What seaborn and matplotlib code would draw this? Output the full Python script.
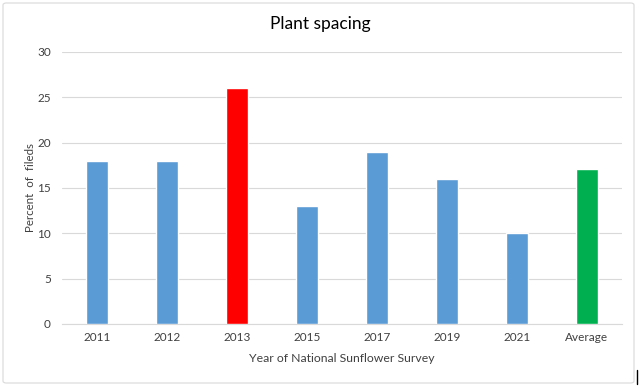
import matplotlib
matplotlib.use("Agg")
import matplotlib.pyplot as plt
from matplotlib.patches import FancyBboxPatch
from matplotlib.lines import Line2D
import seaborn as sns
import pandas as pd

categories = ["2011", "2012", "2013", "2015", "2017", "2019", "2021", "Average"]
values = [18, 18, 26, 13, 19, 16, 10, 17.14]
bar_colors = ["#5B9BD5", "#5B9BD5", "#FF0000", "#5B9BD5", "#5B9BD5", "#5B9BD5", "#5B9BD5", "#00B050"]
yticks = [0, 5, 10, 15, 20, 25, 30]

sns.set_theme(style="white")
plt.rcParams["font.family"] = ["Lato", "DejaVu Sans"]

df = pd.DataFrame({"cat": categories, "val": values})

fig = plt.figure(figsize=(6.4, 3.86), dpi=100)
ax = fig.add_axes([62 / 640, 1 - 324 / 386, 560 / 640, 272 / 386])

sns.barplot(data=df, x="cat", y="val", hue="cat", palette=bar_colors, legend=False,
            width=0.31, ax=ax, saturation=1, zorder=3)

ax.set_ylim(0, 30)
ax.set_yticks(yticks)
ax.set_yticklabels([str(t) for t in yticks], fontsize=8.5, color="#404040")
ax.tick_params(axis="x", labelsize=8.5, colors="#404040", length=0, pad=6)
ax.tick_params(axis="y", length=0, pad=8)
ax.yaxis.grid(True, color="#d9d9d9", linewidth=0.8, zorder=0)
ax.set_axisbelow(True)
for s in ["top", "right", "left"]:
    ax.spines[s].set_visible(False)
ax.spines["bottom"].set_color("#d9d9d9")
ax.spines["bottom"].set_linewidth(0.8)

ax.set_xlabel("Year of National Sunflower Survey", fontsize=8.8, color="#404040", labelpad=7)
ax.set_ylabel("Percent  of  fileds", fontsize=8.3, color="#404040", labelpad=1)
fig.text(0.5, 1 - 24 / 386, "Plant spacing", ha="center", va="center", fontsize=12.5, color="#000000")

border = FancyBboxPatch((3 / 640, 3 / 386), 631 / 640, 380 / 386,
                        boxstyle="round,pad=0,rounding_size=0.005",
                        transform=fig.transFigure, fill=False, edgecolor="#d9d9d9", linewidth=0.8)
fig.add_artist(border)
fig.add_artist(Line2D([637 / 640, 637 / 640], [1 - 370 / 386, 1 - 384 / 386],
                      transform=fig.transFigure, color="black", linewidth=1))

fig.savefig("out.png", dpi=100)
